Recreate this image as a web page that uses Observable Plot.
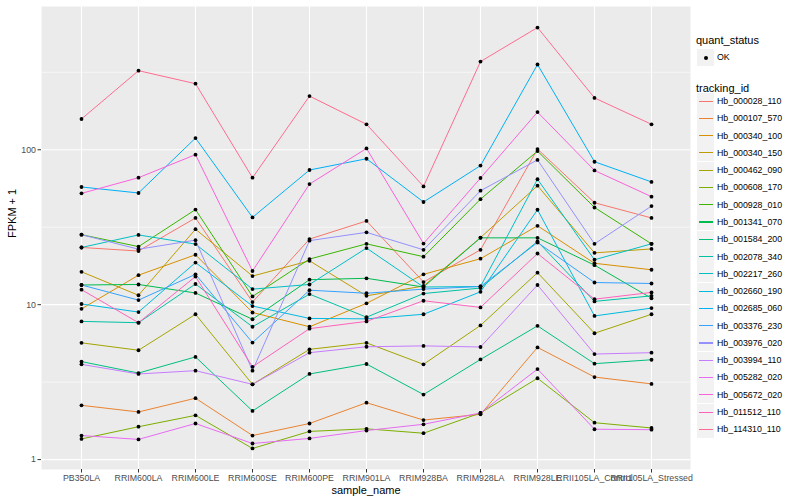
<!DOCTYPE html>
<html>
<head>
<meta charset="utf-8">
<script src="https://cdn.jsdelivr.net/npm/d3@7"></script>
<script src="https://cdn.jsdelivr.net/npm/@observablehq/plot@0.6"></script>
<style>
  body { margin: 0; background: white; }
  #wrap { position: relative; width: 800px; height: 500px; font-family: "Liberation Sans", Arial, sans-serif; }
  #legend { position: absolute; left: 0; top: 0; width: 800px; height: 500px; pointer-events: none; }
  .lt { position: absolute; font-size: 11px; color: #000; line-height: 1; }
  .ll { position: absolute; font-size: 8.8px; color: #000; line-height: 1; }
  .key { position: absolute; width: 17px; height: 17px; background: #F2F2F2; }
</style>
</head>
<body>
<div id="wrap"><div id="legend"></div></div>
<script>
const samples = ["PB350LA","RRIM600LA","RRIM600LE","RRIM600SE","RRIM600PE","RRIM901LA","RRIM928BA","RRIM928LA","RRIM928LE","RRII105LA_Control","RRII105LA_Stressed"];
const trackingIds = ["Hb_000028_110","Hb_000107_570","Hb_000340_100","Hb_000340_150","Hb_000462_090","Hb_000608_170","Hb_000928_010","Hb_001341_070","Hb_001584_200","Hb_002078_340","Hb_002217_260","Hb_002660_190","Hb_002685_060","Hb_003376_230","Hb_003976_020","Hb_003994_110","Hb_005282_020","Hb_005672_020","Hb_011512_110","Hb_114310_110"];
const colors = ["#F8766D","#EA8331","#D89000","#C09B00","#A3A500","#7CAE00","#39B600","#00BB4E","#00BF7D","#00C1A3","#00BFC4","#00BAE0","#00B0F6","#35A2FF","#9590FF","#C77CFF","#E76BF3","#FA62DB","#FF62BC","#FF6C91"];
const yTicks = [1, 10, 100];

// FPKM + 1 per sample, in order of `samples`
const Hb_000028_110 = [23.4, 22.2, 36.3, 10.4, 26.5, 34.7, 14.0, 22.6, 101, 45.5, 36.3];
const Hb_000107_570 = [2.24, 2.03, 2.49, 1.43, 1.71, 2.33, 1.8, 1.96, 5.3, 3.41, 3.08];
const Hb_000340_100 = [9.4, 15.5, 21.0, 8.9, 7.2, 10.2, 15.7, 19.8, 32.3, 18.5, 16.8];
const Hb_000340_150 = [16.3, 11.5, 30.7, 15.3, 19.2, 11.4, 13.2, 27.1, 58.6, 21.6, 22.9];
const Hb_000462_090 = [5.67, 5.08, 8.67, 3.06, 5.15, 5.67, 4.12, 7.35, 16.1, 6.54, 8.67];
const Hb_000608_170 = [1.36, 1.63, 1.93, 1.18, 1.52, 1.58, 1.48, 2.0, 3.35, 1.73, 1.6];
const Hb_000928_010 = [28.3, 23.7, 41.1, 11.3, 19.7, 24.7, 20.4, 48, 98, 42.4, 24.7];
const Hb_001341_070 = [13.4, 13.5, 11.9, 8.05, 14.5, 14.8, 13.0, 27, 27, 18.0, 11.0];
const Hb_001584_200 = [4.29, 3.62, 4.6, 2.06, 3.57, 4.14, 2.63, 4.43, 7.3, 4.16, 4.41];
const Hb_002078_340 = [7.8, 7.65, 13.6, 7.2, 11.7, 8.3, 11.8, 12.8, 25.6, 10.5, 11.4];
const Hb_002217_260 = [23.4, 28.2, 24.6, 12.6, 13.5, 23.2, 13.0, 13.1, 64.5, 19.5, 24.7];
const Hb_002660_190 = [10.1, 8.96, 18.7, 9.8, 8.15, 8.1, 8.67, 12.1, 41, 8.46, 9.5];
const Hb_002685_060 = [57.5, 52.6, 119, 36.6, 74, 87.5, 46, 79, 355, 83.7, 62];
const Hb_003376_230 = [13.4, 10.7, 15.7, 5.69, 12.4, 11.85, 12.6, 13.1, 25.2, 13.9, 13.7];
const Hb_003976_020 = [28.3, 22.8, 26.1, 3.75, 25.9, 29.3, 22.6, 54.4, 86, 24.7, 43.3];
const Hb_003994_110 = [4.12, 3.57, 3.75, 3.06, 4.9, 5.35, 5.42, 5.33, 13.4, 4.8, 4.9];
const Hb_005282_020 = [1.43, 1.35, 1.71, 1.27, 1.37, 1.54, 1.69, 2.0, 3.84, 1.57, 1.56];
const Hb_005672_020 = [52.3, 66, 93, 16.5, 60, 102, 24.8, 65.7, 175, 73.5, 49.8];
const Hb_011512_110 = [12.5, 7.65, 15.2, 3.97, 7.0, 7.8, 10.6, 9.6, 21.4, 10.85, 12.0];
const Hb_114310_110 = [158, 324, 267, 66, 222, 146, 58, 371, 615, 216, 146];

const seriesValues = [Hb_000028_110, Hb_000107_570, Hb_000340_100, Hb_000340_150, Hb_000462_090, Hb_000608_170, Hb_000928_010, Hb_001341_070, Hb_001584_200, Hb_002078_340, Hb_002217_260, Hb_002660_190, Hb_002685_060, Hb_003376_230, Hb_003976_020, Hb_003994_110, Hb_005282_020, Hb_005672_020, Hb_011512_110, Hb_114310_110];

const data = [];
trackingIds.forEach((id, i) => {
  seriesValues[i].forEach((v, j) => data.push({id, sample: samples[j], value: v}));
});

// ggplot-style 5% expansion in log space
const lo = Math.log10(d3.min(data, d => d.value)), hi = Math.log10(d3.max(data, d => d.value));
const pad = (hi - lo) * 0.05;
const yDomain = [10 ** (lo - pad), 10 ** (hi + pad)];
const minorTicks = [10 ** 0.5, 10 ** 1.5, 10 ** 2.5];

const plot = Plot.plot({
  width: 800,
  height: 500,
  marginLeft: 41,
  marginRight: 110,
  marginTop: 6,
  marginBottom: 31,
  style: {background: "white", fontFamily: "Liberation Sans, Arial, sans-serif", fontSize: "8.8px", color: "#4D4D4D", overflow: "visible"},
  x: {type: "point", domain: samples, padding: 0.6, label: null},
  y: {type: "log", domain: yDomain, label: null},
  color: {domain: trackingIds, range: colors},
  marks: [
    Plot.frame({fill: "#EBEBEB", stroke: null}),
    Plot.ruleY(minorTicks, {stroke: "white", strokeWidth: 0.55}),
    Plot.ruleY(yTicks, {stroke: "white", strokeWidth: 1.1}),
    Plot.ruleX(samples, {stroke: "white", strokeWidth: 1.1}),
    Plot.line(data, {x: "sample", y: "value", z: "id", stroke: "id", strokeWidth: 1}),
    Plot.dot(data, {x: "sample", y: "value", fill: "black", stroke: null, r: 1.9}),
    Plot.axisX({tickSize: 3.5, tickPadding: 1.5, stroke: "#333333", fill: "#4D4D4D", label: null}),
    Plot.axisY({ticks: yTicks, tickFormat: d => String(d), tickSize: 3.5, tickPadding: 2, stroke: "#333333", fill: "#4D4D4D", label: null}),
    Plot.text(["sample_name"], {frameAnchor: "bottom", dy: 24, fontSize: 11, fill: "black"}),
    Plot.text(["FPKM + 1"], {frameAnchor: "left", dx: -29, rotate: -90, fontSize: 11, fill: "black"})
  ]
});
document.getElementById("wrap").prepend(plot);

// Legend (right side, ggplot style)
const legend = document.getElementById("legend");
function add(cls, left, top, text) {
  const el = document.createElement("div");
  el.className = cls;
  el.style.left = left + "px";
  el.style.top = top + "px";
  if (text != null) el.textContent = text;
  legend.appendChild(el);
  return el;
}
const lx = 697;
add("lt", lx - 1, 35, "quant_status");
const okKey = add("key", lx, 49);
const dot = document.createElement("div");
dot.style.cssText = "position:absolute;left:6.5px;top:6.5px;width:4px;height:4px;border-radius:50%;background:#000;";
okKey.appendChild(dot);
add("ll", lx + 20, 53, "OK");
add("lt", lx - 1, 83, "tracking_id");
const step = 17.28;
trackingIds.forEach((id, i) => {
  const top = 92.5 + i * step;
  const k = add("key", lx, top);
  const ln = document.createElement("div");
  ln.style.cssText = `position:absolute;left:1.5px;top:8px;width:14px;height:1.1px;background:${colors[i]};`;
  k.appendChild(ln);
  add("ll", lx + 20, top + 4.5, id);
});
</script>
</body>
</html>
